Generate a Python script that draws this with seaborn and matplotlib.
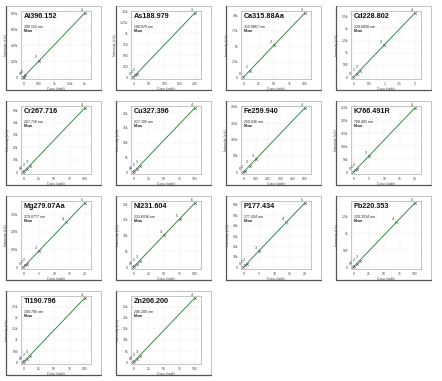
import matplotlib
matplotlib.use("Agg")
import matplotlib.pyplot as plt
import seaborn as sns
import pandas as pd
from matplotlib.patches import Rectangle
from matplotlib.lines import Line2D
from matplotlib.ticker import MultipleLocator, FuncFormatter

# calibration data
names = ["Al396.152", "As188.979", "Ca315.88Aa", "Cd228.802",
         "Cr267.716", "Cu327.396", "Fe259.940", "K766.491R",
         "Mg279.07Aa", "Ni231.604", "P177.434", "Pb220.353",
         "Tl190.796", "Zn206.200"]
waves = ["396.152 nm", "188.979 nm", "315.8867 nm", "228.8058 nm",
         "267.716 nm", "327.395 nm", "259.936 nm", "766.491 nm",
         "279.0777 nm", "231.6036 nm", "177.434 nm", "220.3534 nm",
         "190.796 nm", "206.200 nm"]

al_conc = [0, 10, 50, 500, 2000]
al_int = [0, 4100, 20500, 205000, 812000]
as_conc = [0, 5, 10, 200]
as_int = [0, 37, 74, 1470]
ca_conc = [0, 10, 50, 100]
ca_int = [0, 1050, 5150, 10350]
cd_conc = [0, 0.1, 0.2, 1, 2]
cd_int = [0, 132, 265, 1310, 2640]
cr_conc = [0, 1, 5, 10, 100]
cr_int = [0, 520, 2600, 5200, 51800]
cu_conc = [0, 1, 5, 10, 100]
cu_int = [0, 220, 1100, 2200, 21800]
fe_conc = [0, 10, 50, 100, 500]
fe_int = [0, 3950, 19800, 39500, 197000]
k_conc = [0, 0.5, 1, 5, 20]
k_int = [0, 6200, 12400, 62000, 249000]
mg_conc = [0, 0.5, 1, 5, 14, 20]
mg_int = [0, 9100, 18200, 91000, 255000, 364000]
ni_conc = [0, 1, 5, 10, 50, 75, 100]
ni_int = [0, 205, 1020, 2050, 10200, 15300, 20400]
p_conc = [0, 0.5, 1, 5, 14, 20]
p_int = [0, 1550, 3100, 15500, 43500, 62000]
pb_conc = [0, 1, 5, 10, 70, 100]
pb_int = [0, 19, 95, 190, 1330, 1900]
tl_conc = [0, 1, 5, 10, 100]
tl_int = [0, 29, 145, 290, 2900]
zn_conc = [0, 1, 5, 10, 100]
zn_int = [0, 290, 1450, 2900, 29000]

x_steps = [500, 50, 25, 0.5, 25, 25, 100, 5, 5, 25, 5, 25, 25, 25]
y_steps = [200000, 250, 2500, 500, 10000, 5000, 50000, 50000,
           100000, 5000, 10000, 500, 500, 5000]

concs = [al_conc, as_conc, ca_conc, cd_conc, cr_conc, cu_conc, fe_conc,
         k_conc, mg_conc, ni_conc, p_conc, pb_conc, tl_conc, zn_conc]
ints = [al_int, as_int, ca_int, cd_int, cr_int, cu_int, fe_int,
        k_int, mg_int, ni_int, p_int, pb_int, tl_int, zn_int]


def short(v, pos=None):
    if abs(v) >= 1e6:
        return f"{v/1e6:g}M"
    if abs(v) >= 1000:
        return f"{v/1000:g}k"
    return f"{v:g}"


sns.set_style("whitegrid")
plt.rcParams["font.family"] = ["Liberation Sans", "DejaVu Sans"]

W, H = 442, 381
fig = plt.figure(figsize=(W / 100, H / 100), dpi=100)
fig.patch.set_facecolor("white")

for i in range(len(names)):
    r, c = divmod(i, 4)
    ox, oy = c * 110, r * 95
    # panel frame (screenshot border)
    fig.add_artist(Rectangle(((ox + 6) / W, 1 - (oy + 90) / H), 95 / W, 84 / H,
                             transform=fig.transFigure, fill=False,
                             edgecolor="#b8b8b8", lw=0.6))
    fig.add_artist(Line2D([(ox + 6) / W, (ox + 6) / W],
                          [1 - (oy + 6) / H, 1 - (oy + 90) / H],
                          transform=fig.transFigure, color="#555555", lw=0.9))
    fig.add_artist(Line2D([(ox + 6) / W, (ox + 101) / W],
                          [1 - (oy + 90) / H, 1 - (oy + 90) / H],
                          transform=fig.transFigure, color="#555555", lw=0.9))

    ax = fig.add_axes([(ox + 21) / W, 1 - (oy + 79) / H, 70 / W, 68 / H])
    df = pd.DataFrame({"conc": concs[i], "intensity": ints[i]})
    sns.regplot(data=df, x="conc", y="intensity", ax=ax, ci=None,
                marker="x", scatter_kws={"s": 4, "color": "#333333",
                                         "linewidths": 0.4},
                line_kws={"color": "#3c8a4a", "lw": 0.7})
    xmax = max(concs[i])
    ymax = max(ints[i])
    ax.set_xlim(-0.04 * xmax, 1.1 * xmax)
    ax.set_ylim(-0.03 * ymax, 1.03 * ymax)
    for k, (xv, yv) in enumerate(zip(concs[i], ints[i])):
        ax.annotate(str(k), (xv, yv), xytext=(-1.5, 1), textcoords="offset points",
                    fontsize=2.6, color="#333333", ha="right", va="bottom")

    ax.xaxis.set_major_locator(MultipleLocator(x_steps[i]))
    ax.yaxis.set_major_locator(MultipleLocator(y_steps[i]))
    ax.xaxis.set_major_formatter(FuncFormatter(short))
    ax.yaxis.set_major_formatter(FuncFormatter(short))
    ax.tick_params(labelsize=2.4, length=1, width=0.3, pad=1, colors="#444444")
    ax.grid(True, color="#cfcfcf", lw=0.3, ls=":")
    for sp in ax.spines.values():
        sp.set_color("#9a9a9a")
        sp.set_linewidth(0.4)
    ax.set_xlabel("Conc (ppb)", fontsize=2.6, labelpad=1, color="#444444")
    ax.set_ylabel("Intensity (c/s)", fontsize=2.6, labelpad=2, color="#444444")

    ax.text(0.04, 0.97, names[i], transform=ax.transAxes, fontsize=5.2,
            fontweight="bold", va="top", ha="left", color="#111111")
    ax.text(0.04, 0.80, waves[i], transform=ax.transAxes, fontsize=2.6,
            va="top", ha="left", color="#222222")
    ax.text(0.04, 0.73, "Mean", transform=ax.transAxes, fontsize=2.6,
            fontweight="bold", va="top", ha="left", color="#222222")

fig.savefig("out.png", dpi=100, facecolor="white")
